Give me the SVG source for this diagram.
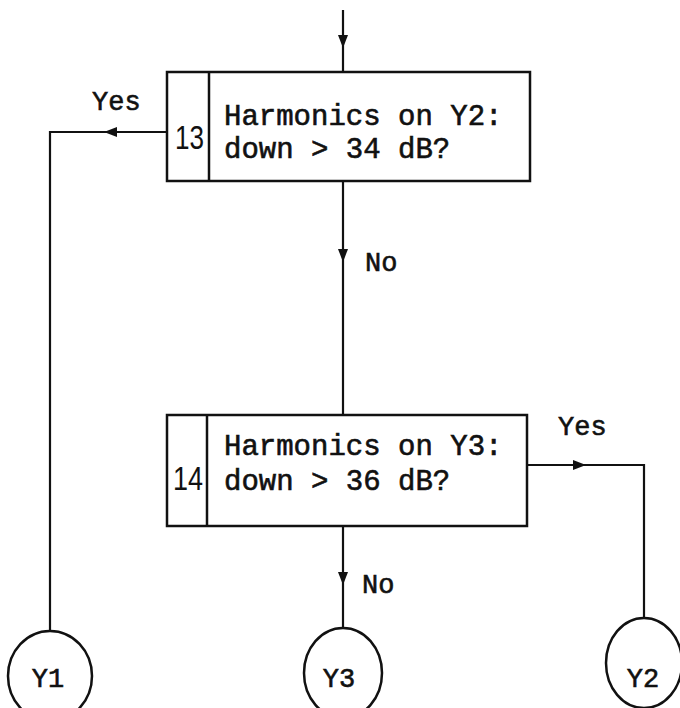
<svg xmlns="http://www.w3.org/2000/svg" width="680" height="708" viewBox="0 0 680 708">
<style>
.box{fill:#fff;stroke:#111;stroke-width:2.5}
.ln{fill:none;stroke:#111;stroke-width:2.2}
.t{font-family:"Liberation Mono","Courier New",monospace;font-size:29px;fill:#111;stroke:#111;stroke-width:0.6}
.lbl{font-family:"Liberation Mono","Courier New",monospace;font-size:27px;fill:#111;stroke:#111;stroke-width:0.6}
.num{font-family:"Liberation Sans",Arial,sans-serif;font-size:34px;fill:#111}
.ah{fill:#111}
</style>
<defs>
<path id="ah" d="M0 0 L-13 -5 L-13 5 Z"/>
</defs>
<g id="connectors">
<path class="ln" d="M343 10 V72"/>
<path class="ln" d="M167 132 H50 V631"/>
<path class="ln" d="M343 181 V415"/>
<path class="ln" d="M527 465 H644 V618"/>
<path class="ln" d="M343 526 V628"/>
<use href="#ah" class="ah" transform="translate(343,48) rotate(90)"/>
<use href="#ah" class="ah" transform="translate(104,132) rotate(180)"/>
<use href="#ah" class="ah" transform="translate(343,262) rotate(90)"/>
<use href="#ah" class="ah" transform="translate(586,465)"/>
<use href="#ah" class="ah" transform="translate(343,585) rotate(90)"/>
<text class="lbl" x="92" y="110">Yes</text>
<text class="lbl" x="365" y="271">No</text>
<text class="lbl" x="558" y="435">Yes</text>
<text class="lbl" x="362" y="593">No</text>
</g>
<g id="n13">
<rect class="box" x="167" y="72" width="363" height="109"/>
<line class="box" x1="209" y1="72" x2="209" y2="181"/>
<text class="num" x="175" y="149" textLength="29" lengthAdjust="spacingAndGlyphs">13</text>
<text class="t" x="224" y="125">Harmonics on Y2:</text>
<text class="t" x="224" y="158">down &gt; 34 dB?</text>
</g>
<g id="n14">
<rect class="box" x="167" y="415" width="360" height="111"/>
<line class="box" x1="207" y1="415" x2="207" y2="526"/>
<text class="num" x="173" y="490" textLength="30" lengthAdjust="spacingAndGlyphs">14</text>
<text class="t" x="224" y="455">Harmonics on Y3:</text>
<text class="t" x="224" y="490">down &gt; 36 dB?</text>
</g>
<g id="y1">
<ellipse class="box" cx="50" cy="676" rx="42" ry="45"/>
<text class="lbl" x="48" y="687" text-anchor="middle">Y1</text>
</g>
<g id="y3">
<ellipse class="box" cx="343" cy="673" rx="39" ry="45"/>
<text class="lbl" x="339" y="687" text-anchor="middle">Y3</text>
</g>
<g id="y2">
<ellipse class="box" cx="644" cy="663" rx="38" ry="45"/>
<text class="lbl" x="643" y="687" text-anchor="middle">Y2</text>
</g>
</svg>
